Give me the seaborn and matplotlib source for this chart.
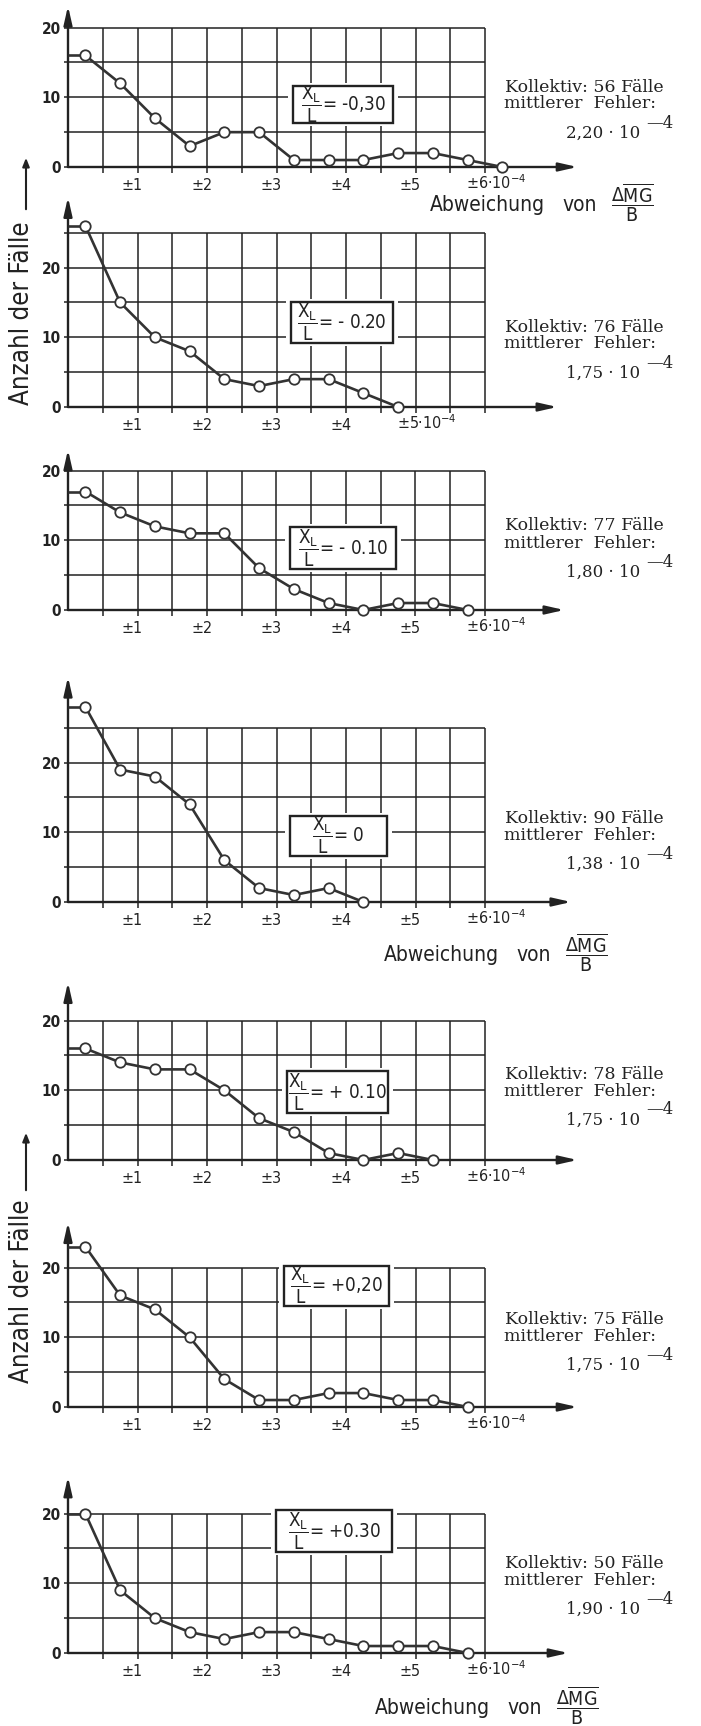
import numpy as np
import pandas as pd
import matplotlib
matplotlib.use("Agg")
import matplotlib.pyplot as plt
import matplotlib.transforms as mtransforms
from matplotlib import font_manager
from matplotlib.patches import Rectangle, FancyArrowPatch
import seaborn as sns

# Klassenmitten der Abweichung (Einheit 10^-4)
klassenmitte = [0.25, 0.75, 1.25, 1.75, 2.25, 2.75, 3.25, 3.75, 4.25, 4.75, 5.25, 5.75, 6.25]

# Anzahl der Fälle je Klasse, für jede Lage x_L/L
anzahl_m030 = [16, 12, 7, 3, 5, 5, 1, 1, 1, 2, 2, 1, 0]
anzahl_m020 = [26, 15, 10, 8, 4, 3, 4, 4, 2, 0]
anzahl_m010 = [17, 14, 12, 11, 11, 6, 3, 1, 0, 1, 1, 0]
anzahl_0 = [28, 19, 18, 14, 6, 2, 1, 2, 0]
anzahl_p010 = [16, 14, 13, 13, 10, 6, 4, 1, 0, 1, 0]
anzahl_p020 = [23, 16, 14, 10, 4, 1, 1, 2, 2, 1, 1, 0]
anzahl_p030 = [20, 9, 5, 3, 2, 3, 3, 2, 1, 1, 1, 0]

lage_text = ["-0,30", "- 0.20", "- 0.10", "0", "+ 0.10", "+0,20", "+0.30"]
kollektiv = [56, 76, 77, 90, 78, 75, 50]
mittlerer_fehler = ["2,20", "1,75", "1,80", "1,38", "1,75", "1,75", "1,90"]
x_ticklabels = ["±1", "±2", "±3", "±4", "±5", "±6"]
y_ticklabels = ["0", "10", "20"]

reihen = [anzahl_m030, anzahl_m020, anzahl_m010, anzahl_0, anzahl_p010, anzahl_p020, anzahl_p030]

sns.set_style("white")

_fonts = font_manager.fontManager.ttflist
_names = {f.name for f in _fonts}
SANS = "Liberation Sans Narrow" if "Liberation Sans Narrow" in _names else "DejaVu Sans"
_has_cond = any(f.name == SANS and f.stretch == "condensed" for f in _fonts)
STRETCH = "condensed" if _has_cond else "normal"
SERIF = "DejaVu Serif"
plt.rcParams["font.family"] = [SANS, "DejaVu Sans"]
plt.rcParams["font.stretch"] = STRETCH
plt.rcParams["mathtext.fontset"] = "custom"
plt.rcParams["mathtext.rm"] = SANS
plt.rcParams["mathtext.it"] = SANS + ":italic"
plt.rcParams["mathtext.bf"] = SANS + ":bold"

INK = "#222222"
LINE = "#333333"

W, H = 701, 1726
fig = plt.figure(figsize=(W / 100, H / 100), dpi=100)
fig.patch.set_facecolor("white")


def fx(px):
    return px / W


def fy(py):
    return 1 - py / H


X0 = 68          # pixel position of the vertical axis
PX_X = 69.5      # pixels per 10^-4
PX_Y = 6.97      # pixels per case

# layout of the seven panels
y0_px = [167, 407, 610, 902, 1160, 1407, 1653]
y_top = [23.1, 30.1, 23.0, 32.3, 25.5, 26.5, 25.3]
grid_top = [20, 25, 20, 25, 20, 20, 20]
x_top = [7.33, 7.04, 7.14, 7.24, 7.33, 7.33, 7.2]
n_labels = [6, 5, 6, 6, 6, 6, 6]
box_center = [(3.96, 8.97), (3.94, 12.1), (3.96, 8.9), (3.89, 9.5),
              (3.88, 9.76), (3.86, 17.4), (3.83, 17.5)]
box_px = [(100, 37), (102, 41), (106, 42), (97, 40), (101, 42), (105, 40), (116, 42)]
text_off = [80, 80, 84, 84, 86, 88, 90]

shift = mtransforms.ScaledTranslation(-0.05, 0, fig.dpi_scale_trans)
serif_kw = dict(family=SERIF, fontstretch="normal", va="center", ha="left", color=INK)

for i, werte in enumerate(reihen):
    y0 = y0_px[i]
    yt, xt, gt = y_top[i], x_top[i], grid_top[i]
    ax = fig.add_axes([fx(X0), fy(y0), xt * PX_X / W, yt * PX_Y / H])
    ax.set_xlim(0, xt)
    ax.set_ylim(0, yt)
    ax.set_facecolor("none")
    for s in ax.spines.values():
        s.set_visible(False)

    # Raster
    ax.vlines(np.arange(0.5, 6.01, 0.5), 0, gt, colors=INK, lw=1.1, zorder=1)
    ax.hlines(np.arange(5, gt + 0.01, 5), 0, 6, colors=INK, lw=1.1, zorder=1)

    # Achsen mit Pfeilspitzen
    arrow = dict(arrowstyle="-|>,head_length=1.1,head_width=0.25", lw=1.7,
                 color=INK, shrinkA=0, shrinkB=0)
    ax.annotate("", xy=(xt, 0), xytext=(0, 0), arrowprops=arrow, annotation_clip=False)
    ax.annotate("", xy=(0, yt), xytext=(0, 0), arrowprops=arrow, annotation_clip=False)

    # x-Teilung
    xt_pos = np.arange(0.5, 6.01, 0.5)
    nl = n_labels[i]
    labs = []
    for t in xt_pos:
        k = int(round(t))
        if abs(t - k) < 1e-9 and 1 <= k < nl:
            labs.append(x_ticklabels[k - 1])
        else:
            labs.append("")
    ax.set_xticks(xt_pos)
    ax.set_xticklabels(labs)
    ax.tick_params(axis="x", length=4, width=1.1, color=INK, direction="out",
                   pad=4, labelsize=11.5, labelcolor=INK, bottom=True)
    for lbl in ax.get_xticklabels():
        lbl.set_transform(lbl.get_transform() + shift)
    ax.annotate(x_ticklabels[nl - 1] + "·10$^{-4}$", xy=(nl, 0), xycoords="data",
                xytext=(-19 * 0.72, -16 * 0.72), textcoords="offset points",
                ha="left", va="center", fontsize=11.5, color=INK, annotation_clip=False)

    # y-Teilung
    yt_pos = np.arange(0, gt + 0.01, 5)
    ax.set_yticks(yt_pos)
    ax.set_yticklabels([y_ticklabels[int(v) // 10] if int(v) % 10 == 0 else "" for v in yt_pos])
    ax.tick_params(axis="y", length=3, width=1.1, color=INK, direction="out",
                   pad=2, labelsize=11, labelcolor=INK, left=True)
    for lbl in ax.get_yticklabels():
        lbl.set_fontweight("bold")

    # Häufigkeitspolygon
    df = pd.DataFrame({"x": klassenmitte[:len(werte)], "y": werte})
    ax.plot([0, df["x"].iloc[0]], [df["y"].iloc[0]] * 2, color=LINE, lw=1.9,
            zorder=3, solid_capstyle="butt", clip_on=False)
    sns.lineplot(data=df, x="x", y="y", ax=ax, color=LINE, lw=1.9, marker="o",
                 markersize=7.5, markerfacecolor="white", markeredgecolor=LINE,
                 markeredgewidth=1.3, clip_on=False, zorder=4)
    ax.set_xlabel("")
    ax.set_ylabel("")

    # Kennzeichnung der Lage
    cx, cy = box_center[i]
    bw, bh = box_px[i][0] / PX_X, box_px[i][1] / PX_Y
    gx, gy = 5 / PX_X, 3 / PX_Y
    ax.add_patch(Rectangle((cx - bw / 2 - gx, cy - bh / 2 - gy), bw + 2 * gx, bh + 2 * gy,
                           fc="white", ec="none", zorder=2))
    ax.add_patch(Rectangle((cx - bw / 2, cy - bh / 2), bw, bh, fc="white", ec=INK,
                           lw=1.7, zorder=5))
    ax.text(cx, cy, r"$\dfrac{\mathrm{X_L}}{\mathrm{L}}$= " + lage_text[i], ha="center",
            va="center", fontsize=13.5, color=INK, zorder=6)

    # Kollektiv und mittlerer Fehler
    ty = y0 - text_off[i]
    fig.text(fx(505), fy(ty), f"Kollektiv: {kollektiv[i]} Fälle", fontsize=12.5, **serif_kw)
    fig.text(fx(504), fy(ty + 17), "mittlerer  Fehler:", fontsize=12.5, **serif_kw)
    fig.text(fx(566), fy(ty + 46), f"{mittlerer_fehler[i]} · 10", fontsize=12, **serif_kw)
    fig.text(fx(646), fy(ty + 36), "—4", fontsize=12, **serif_kw)

# Beschriftung der Abszisse
frac = r"$\dfrac{\Delta\overline{\mathrm{MG}}}{\mathrm{B}}$"
for (ax_px, ly) in [(430, 205), (384, 955), (375, 1708)]:
    fig.text(fx(ax_px), fy(ly), "Abweichung", fontsize=15, va="center", ha="left", color=INK)
    fig.text(fx(ax_px + 132), fy(ly), "von", fontsize=15, va="center", ha="left", color=INK)
    fig.text(fx(ax_px + 202), fy(ly - 2), frac, fontsize=14, va="center", ha="center", color=INK)

# Beschriftung der Ordinate
for (top, bot, mid) in [(155, 212, 313), (1130, 1193, 1291)]:
    fig.text(fx(22), fy(mid), "Anzahl der Fälle", rotation=90, fontsize=18.5,
             va="center", ha="center", color=INK)
    fig.add_artist(FancyArrowPatch((fx(26), fy(bot)), (fx(26), fy(top)),
                                   transform=fig.transFigure,
                                   arrowstyle="-|>,head_length=5,head_width=2",
                                   lw=1.5, color=INK))

fig.savefig("out.png", dpi=100, facecolor="white")
